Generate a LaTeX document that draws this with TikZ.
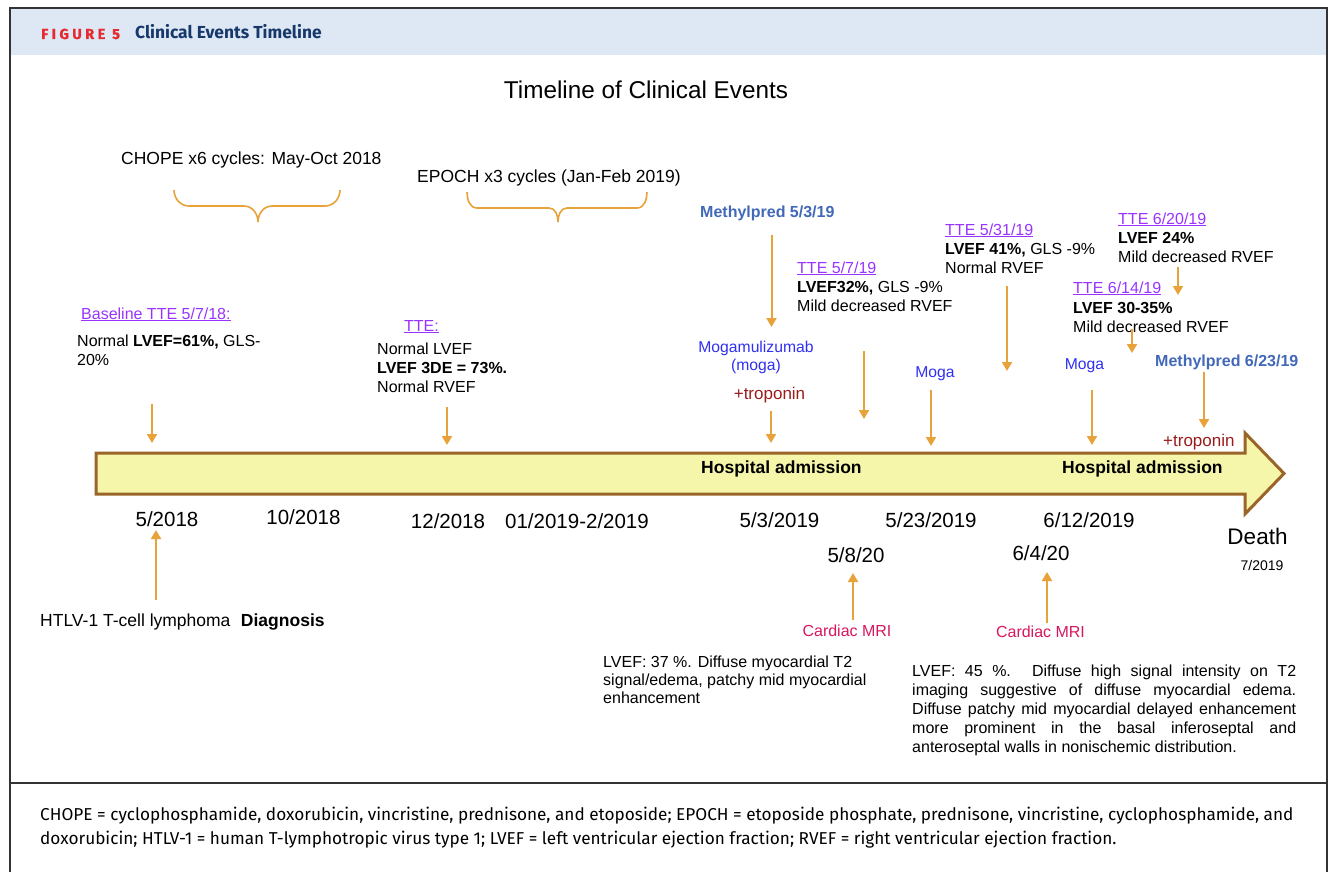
\documentclass[tikz,border=0pt]{standalone}
\usepackage{fontspec}
\setmainfont{Liberation Sans}
\newfontfamily\jacc{Fira Sans}
\newfontfamily\jaccwide[LetterSpace=24, BoldFeatures={FakeBold=1.2}]{Fira Sans}
\usetikzlibrary{arrows.meta}

\definecolor{evtorange}{HTML}{E8A23A}
\definecolor{ttepurple}{HTML}{9933FF}
\definecolor{mogablue}{HTML}{3030F0}
\definecolor{predblue}{HTML}{4169B8}
\definecolor{tropred}{HTML}{9B1B1B}
\definecolor{mrired}{HTML}{D6175F}
\definecolor{barfill}{HTML}{F6F6AA}
\definecolor{barline}{HTML}{9A6528}
\definecolor{headbg}{HTML}{DDE8F4}
\definecolor{figred}{HTML}{E52A30}
\definecolor{navy}{HTML}{17386B}

\tikzset{
  evt/.style={evtorange, line width=2pt, -{Triangle[width=10pt,length=9pt]}},
  curly/.style={evtorange, line width=1.6pt},
  txt/.style={inner sep=0pt, font=\fontsize{16}{19}\selectfont, align=left},
  tte/.style={txt, text=ttepurple},
  moga/.style={inner sep=0pt, font=\fontsize{15.7}{18}\selectfont, text=mogablue, align=center},
  pred/.style={inner sep=0pt, font=\fontsize{16}{19}\selectfont\bfseries, text=predblue},
  trop/.style={inner sep=0pt, font=\fontsize{17}{20}\selectfont, text=tropred},
  mri/.style={inner sep=0pt, font=\fontsize{16}{19}\selectfont, text=mrired},
  day/.style={inner sep=0pt, font=\fontsize{20.5}{24}\selectfont},
  hosp/.style={inner sep=0pt, font=\fontsize{17.5}{21}\selectfont\bfseries},
}

\begin{document}
\begin{tikzpicture}[x=1pt,y=-1pt]
\useasboundingbox (0,0) rectangle (1335,872);

% frame and header
\fill[headbg] (10,8) rectangle (1327,55);
\draw[line width=1.5pt, black!80] (10,872) -- (10,8) -- (1327,8) -- (1327,872);
\draw[line width=1.2pt, black!80] (10,783) -- (1327,783);
\node[anchor=base west, inner sep=0pt, text=figred, font=\jaccwide\fontsize{14.5}{17}\selectfont\bfseries] (fig) at (41,39) {FIGURE 5};
\node[anchor=base west, inner sep=0pt, text=navy, font=\jacc\fontsize{17.4}{20}\selectfont\bfseries] (figtitle) at (135,39) {Clinical Events Timeline};

\node[anchor=base, inner sep=0pt, font=\fontsize{24.3}{28}\selectfont] (title) at (646,99) {Timeline of Clinical Events};

% therapy cycles
\node[anchor=base west, inner sep=0pt, font=\fontsize{17.5}{21}\selectfont] (chope) at (121,164) {CHOPE x6 cycles: May-Oct 2018};
\node[anchor=base west, inner sep=0pt, font=\fontsize{17.5}{21}\selectfont] (epoch) at (417,182) {EPOCH x3 cycles (Jan-Feb 2019)};
\draw[curly] (174,190) to[out=-90,in=180] (189,206) -- (244,206) to[out=0,in=90] (258,222)
  to[out=90,in=180] (272,206) -- (325,206) to[out=0,in=-90] (340,190);
\draw[curly] (467,192) to[out=-90,in=180] (477,208) -- (549,208) to[out=0,in=90] (558,222)
  to[out=90,in=180] (567,208) -- (637,208) to[out=0,in=-90] (647,192);

% events above the bar
\node[tte, anchor=base west] (tte0) at (81,319) {\underline{Baseline TTE 5/7/18:}};
\node[txt, anchor=base west, font=\fontsize{16}{19.5}\selectfont] (tte0-txt) at (77,365.5) {Normal \textbf{LVEF=61\%,} GLS-\\20\%};
\node[tte, anchor=base] (tte1) at (421.5,331) {\underline{TTE:}};
\node[txt, anchor=base west] (tte1-txt) at (377,392) {Normal LVEF\\\textbf{LVEF 3DE = 73\%.}\\Normal RVEF};
\node[pred, anchor=base west] (pred1) at (700,217) {Methylpred 5/3/19};
\node[moga, anchor=base] (moga1) at (756,370) {Mogamulizumab\\(moga)};
\node[trop, anchor=base] (trop1) at (769.5,399) {+troponin};
\node[tte, anchor=base west] (tte2) at (797,273) {\underline{TTE 5/7/19}};
\node[txt, anchor=base west] (tte2-txt) at (797,311) {\textbf{LVEF32\%,} GLS -9\%\\Mild decreased RVEF};
\node[moga, anchor=base] (moga2) at (935,377) {Moga};
\node[tte, anchor=base west] (tte3) at (945,235) {\underline{TTE 5/31/19}};
\node[txt, anchor=base west] (tte3-txt) at (945,273) {\textbf{LVEF 41\%,} GLS -9\%\\Normal RVEF};
\node[tte, anchor=base west] (tte4) at (1118,224) {\underline{TTE 6/20/19}};
\node[txt, anchor=base west] (tte4-txt) at (1118,262) {\textbf{LVEF 24\%}\\Mild decreased RVEF};
\node[tte, anchor=base west] (tte5) at (1073,293) {\underline{TTE 6/14/19}};
\node[txt, anchor=base west] (tte5-txt) at (1073,332) {\textbf{LVEF 30-35\%}\\Mild decreased RVEF};
\node[moga, anchor=base] (moga3) at (1084.5,369) {Moga};
\node[pred, anchor=base west] (pred2) at (1155,366) {Methylpred 6/23/19};
\node[trop, anchor=base west] (trop2) at (1163,446) {+troponin};

% timeline bar
\draw[barline, fill=barfill, line width=3pt] (96,453) -- (1245,453) -- (1245,433) -- (1284,473.5) -- (1245,514) -- (1245,494) -- (96,494) -- cycle;
\node[hosp, anchor=base west] (hosp1) at (701,473) {Hospital admission};
\node[hosp, anchor=base west] (hosp2) at (1062,473) {Hospital admission};

% dates
\node[day, anchor=base] (d1) at (167,526) {5/2018};
\node[day, anchor=base] (d2) at (303.5,524) {10/2018};
\node[day, anchor=base] (d3) at (448,528) {12/2018};
\node[day, anchor=base] (d4) at (577,528) {01/2019-2/2019};
\node[day, anchor=base] (d5) at (779.5,527) {5/3/2019};
\node[day, anchor=base] (d6) at (931,527) {5/23/2019};
\node[day, anchor=base] (d7) at (1089,527) {6/12/2019};
\node[day, anchor=base] (d8) at (856,562) {5/8/20};
\node[day, anchor=base] (d9) at (1041,560) {6/4/20};
\node[anchor=base, inner sep=0pt, font=\fontsize{22.5}{26}\selectfont] (death) at (1257.5,544) {Death};
\node[anchor=base, inner sep=0pt, font=\fontsize{14}{17}\selectfont] (death-d) at (1262,570) {7/2019};

% events below the bar
\node[anchor=base west, inner sep=0pt, font=\fontsize{17.5}{20}\selectfont] (diag) at (40,626) {HTLV-1 T-cell lymphoma\hspace{0.6em}\textbf{Diagnosis}};
\node[mri, anchor=base] (mri1) at (847,636) {Cardiac MRI};
\node[mri, anchor=base] (mri2) at (1040.5,637) {Cardiac MRI};
\node[txt, anchor=base west, font=\fontsize{16}{18.3}\selectfont] (mri1-txt) at (603,703.6) {LVEF: 37 \%. Diffuse myocardial T2\\signal/edema, patchy mid myocardial\\enhancement};
\node[txt, anchor=base west, text width=384pt, align=justify] (mri2-txt) at (912,676) {LVEF: 45 \%. Diffuse high signal intensity on T2\linebreak imaging suggestive of diffuse myocardial edema.\linebreak Diffuse patchy mid myocardial delayed enhancement\linebreak more prominent in the basal inferoseptal and\linebreak anteroseptal walls in nonischemic distribution.};

% event arrows
\foreach \n/\x/\ya/\yb in {tte0/152/404/443, tte1/447/407/445, pred1/771.5/235/327, trop1/771/411/443,
  tte2/864/351/419, moga2/931/390/446, tte3/1007/286/371, tte4/1178/267/295, tte5/1132/329/353,
  moga3/1092/390/445, pred2/1204/372/428, diag/156/600/530, mri1/853/620/573, mri2/1047/623/572}
{
  \coordinate (\n-a) at (\x,\ya); \coordinate (\n-b) at (\x,\yb);
  \draw[evt] (\n-a) -- (\n-b);
}

% caption
\node[anchor=base west, inner sep=0pt, font=\jacc\fontsize{17.2}{24}\selectfont, align=left] (caption) at (40,844) {CHOPE = cyclophosphamide, doxorubicin, vincristine, prednisone, and etoposide; EPOCH = etoposide phosphate, prednisone, vincristine, cyclophosphamide, and\\doxorubicin; HTLV-1 = human T-lymphotropic virus type 1; LVEF = left ventricular ejection fraction; RVEF = right ventricular ejection fraction.};
\end{tikzpicture}
\end{document}
